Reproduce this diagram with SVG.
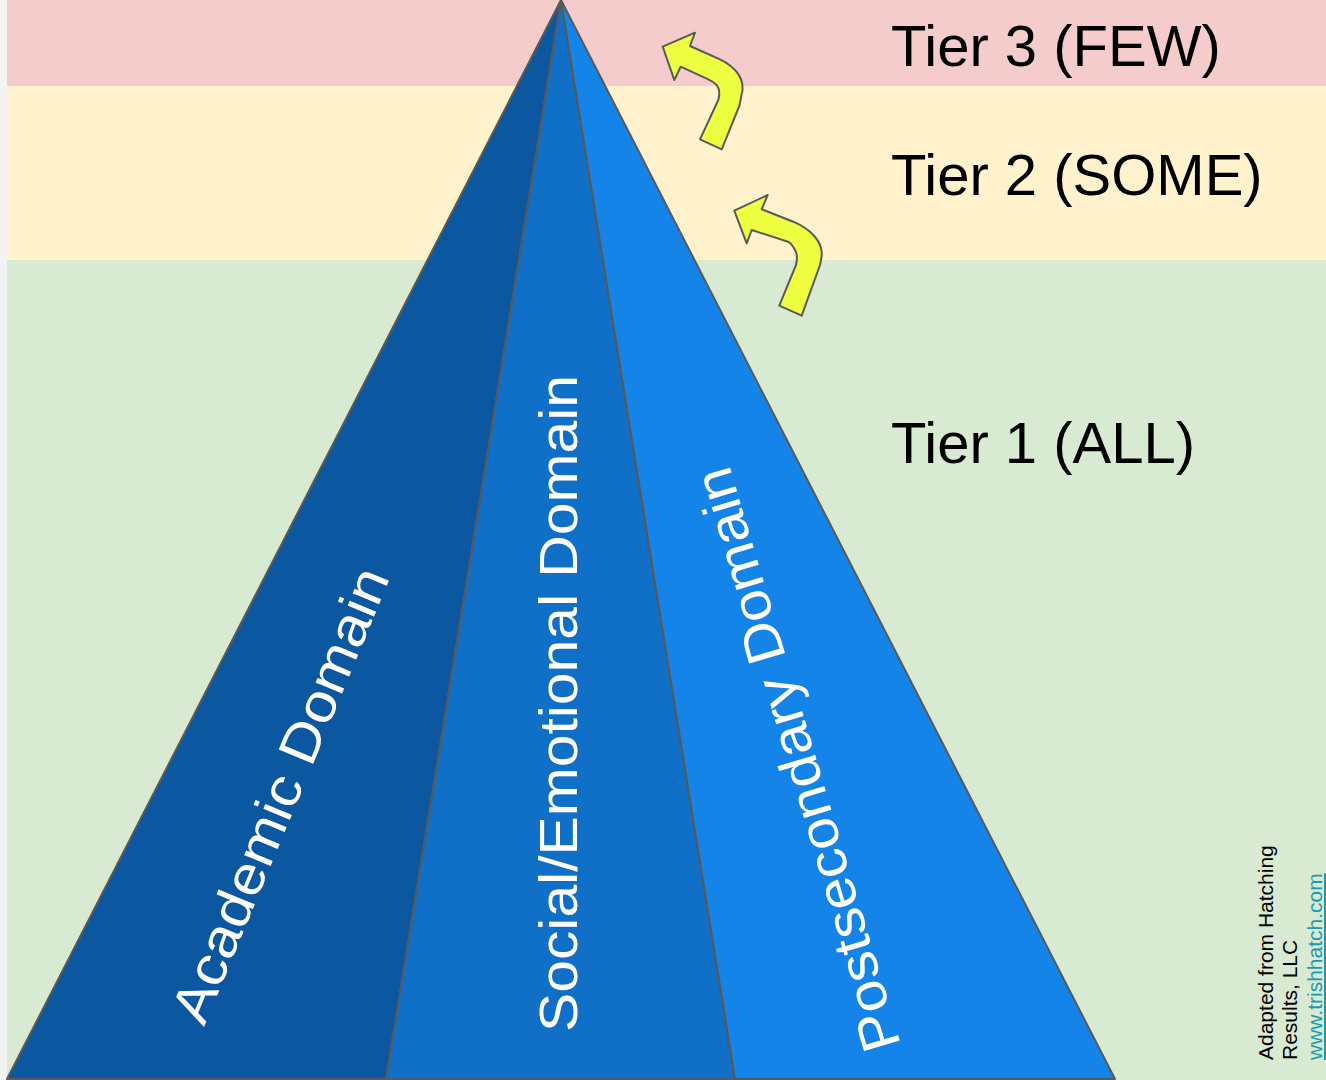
<svg xmlns="http://www.w3.org/2000/svg" width="1326" height="1080" viewBox="0 0 1326 1080">
<style>
.tier{font-family:"Liberation Sans",Arial,sans-serif;font-size:58px;fill:#000}
.dom{font-family:"Liberation Sans",Arial,sans-serif;font-size:54px;fill:#fff}
.seg{stroke:#595959;stroke-width:2;stroke-linejoin:round}
.arrow{fill:#eeff41;stroke:#595959;stroke-width:2;stroke-linejoin:round}
.foot{font-family:"Liberation Sans",Arial,sans-serif;font-size:21px;fill:#000}
</style>
<rect x="0" y="0" width="1326" height="1080" fill="#f3f3f3"/>
<g id="bands">
<rect x="7" y="0" width="1319" height="86" fill="#f4cccc"/>
<rect x="7" y="86" width="1319" height="174" fill="#fff2cc"/>
<rect x="7" y="260" width="1319" height="820" fill="#d9ead3"/>
</g>
<g id="pyramid">
<g id="academic">
<polygon class="seg" points="561,0 7,1079 386,1079" fill="#0b57a0"/>
<text class="dom" transform="translate(204,1027) rotate(-67.5)" textLength="487" lengthAdjust="spacingAndGlyphs">Academic Domain</text>
</g>
<g id="social">
<polygon class="seg" points="561,0 386,1079 735,1079" fill="#106fc6"/>
<text class="dom" transform="translate(577,1032) rotate(-90)" textLength="657" lengthAdjust="spacingAndGlyphs">Social/Emotional Domain</text>
</g>
<g id="postsecondary">
<polygon class="seg" points="561,0 735,1079 1115,1079" fill="#1484e8"/>
<text class="dom" transform="translate(901,1045) rotate(-106.5)" textLength="606" lengthAdjust="spacingAndGlyphs">Postsecondary Domain</text>
</g>
</g>
<g id="connectors">
<path class="arrow" d="M662.7,46.7 L695,32.7 L690,46 L720,59.3 C736,67 746,80 741.5,95 C740.5,100 740,103 739.3,106 L721.7,149.3 L700,139.3 L718.3,100 C720,94 719,88 716.7,85 C714,82 711,80.5 708.3,79.3 L680.7,66.7 L674.3,80 Z"/>
<path class="arrow" d="M734.3,210.7 L767.7,195 L761.7,209.3 L793.3,221.7 C810,229 823,241 821.7,256 C821,260 820.6,263 820,265 L801.7,315.7 L779.3,305.7 L796,265 C797.5,258 797,253 795,250 C793,246 791,243.5 788,241.7 L751.7,230 L746.7,243.3 Z"/>
</g>
<g id="tier3"><text class="tier" x="891" y="66">Tier 3 (FEW)</text></g>
<g id="tier2"><text class="tier" x="891" y="195">Tier 2 (SOME)</text></g>
<g id="tier1"><text class="tier" x="891" y="463">Tier 1 (ALL)</text></g>
<g id="credit">
<text class="foot" transform="translate(1273,1060) rotate(-90)">Adapted from Hatching</text>
<text class="foot" transform="translate(1297,1060) rotate(-90)">Results, LLC</text>
<text class="foot" transform="translate(1322,1060) rotate(-90)" style="fill:#1a9ab0" text-decoration="underline">www.trishhatch.com</text>
</g>
</svg>
